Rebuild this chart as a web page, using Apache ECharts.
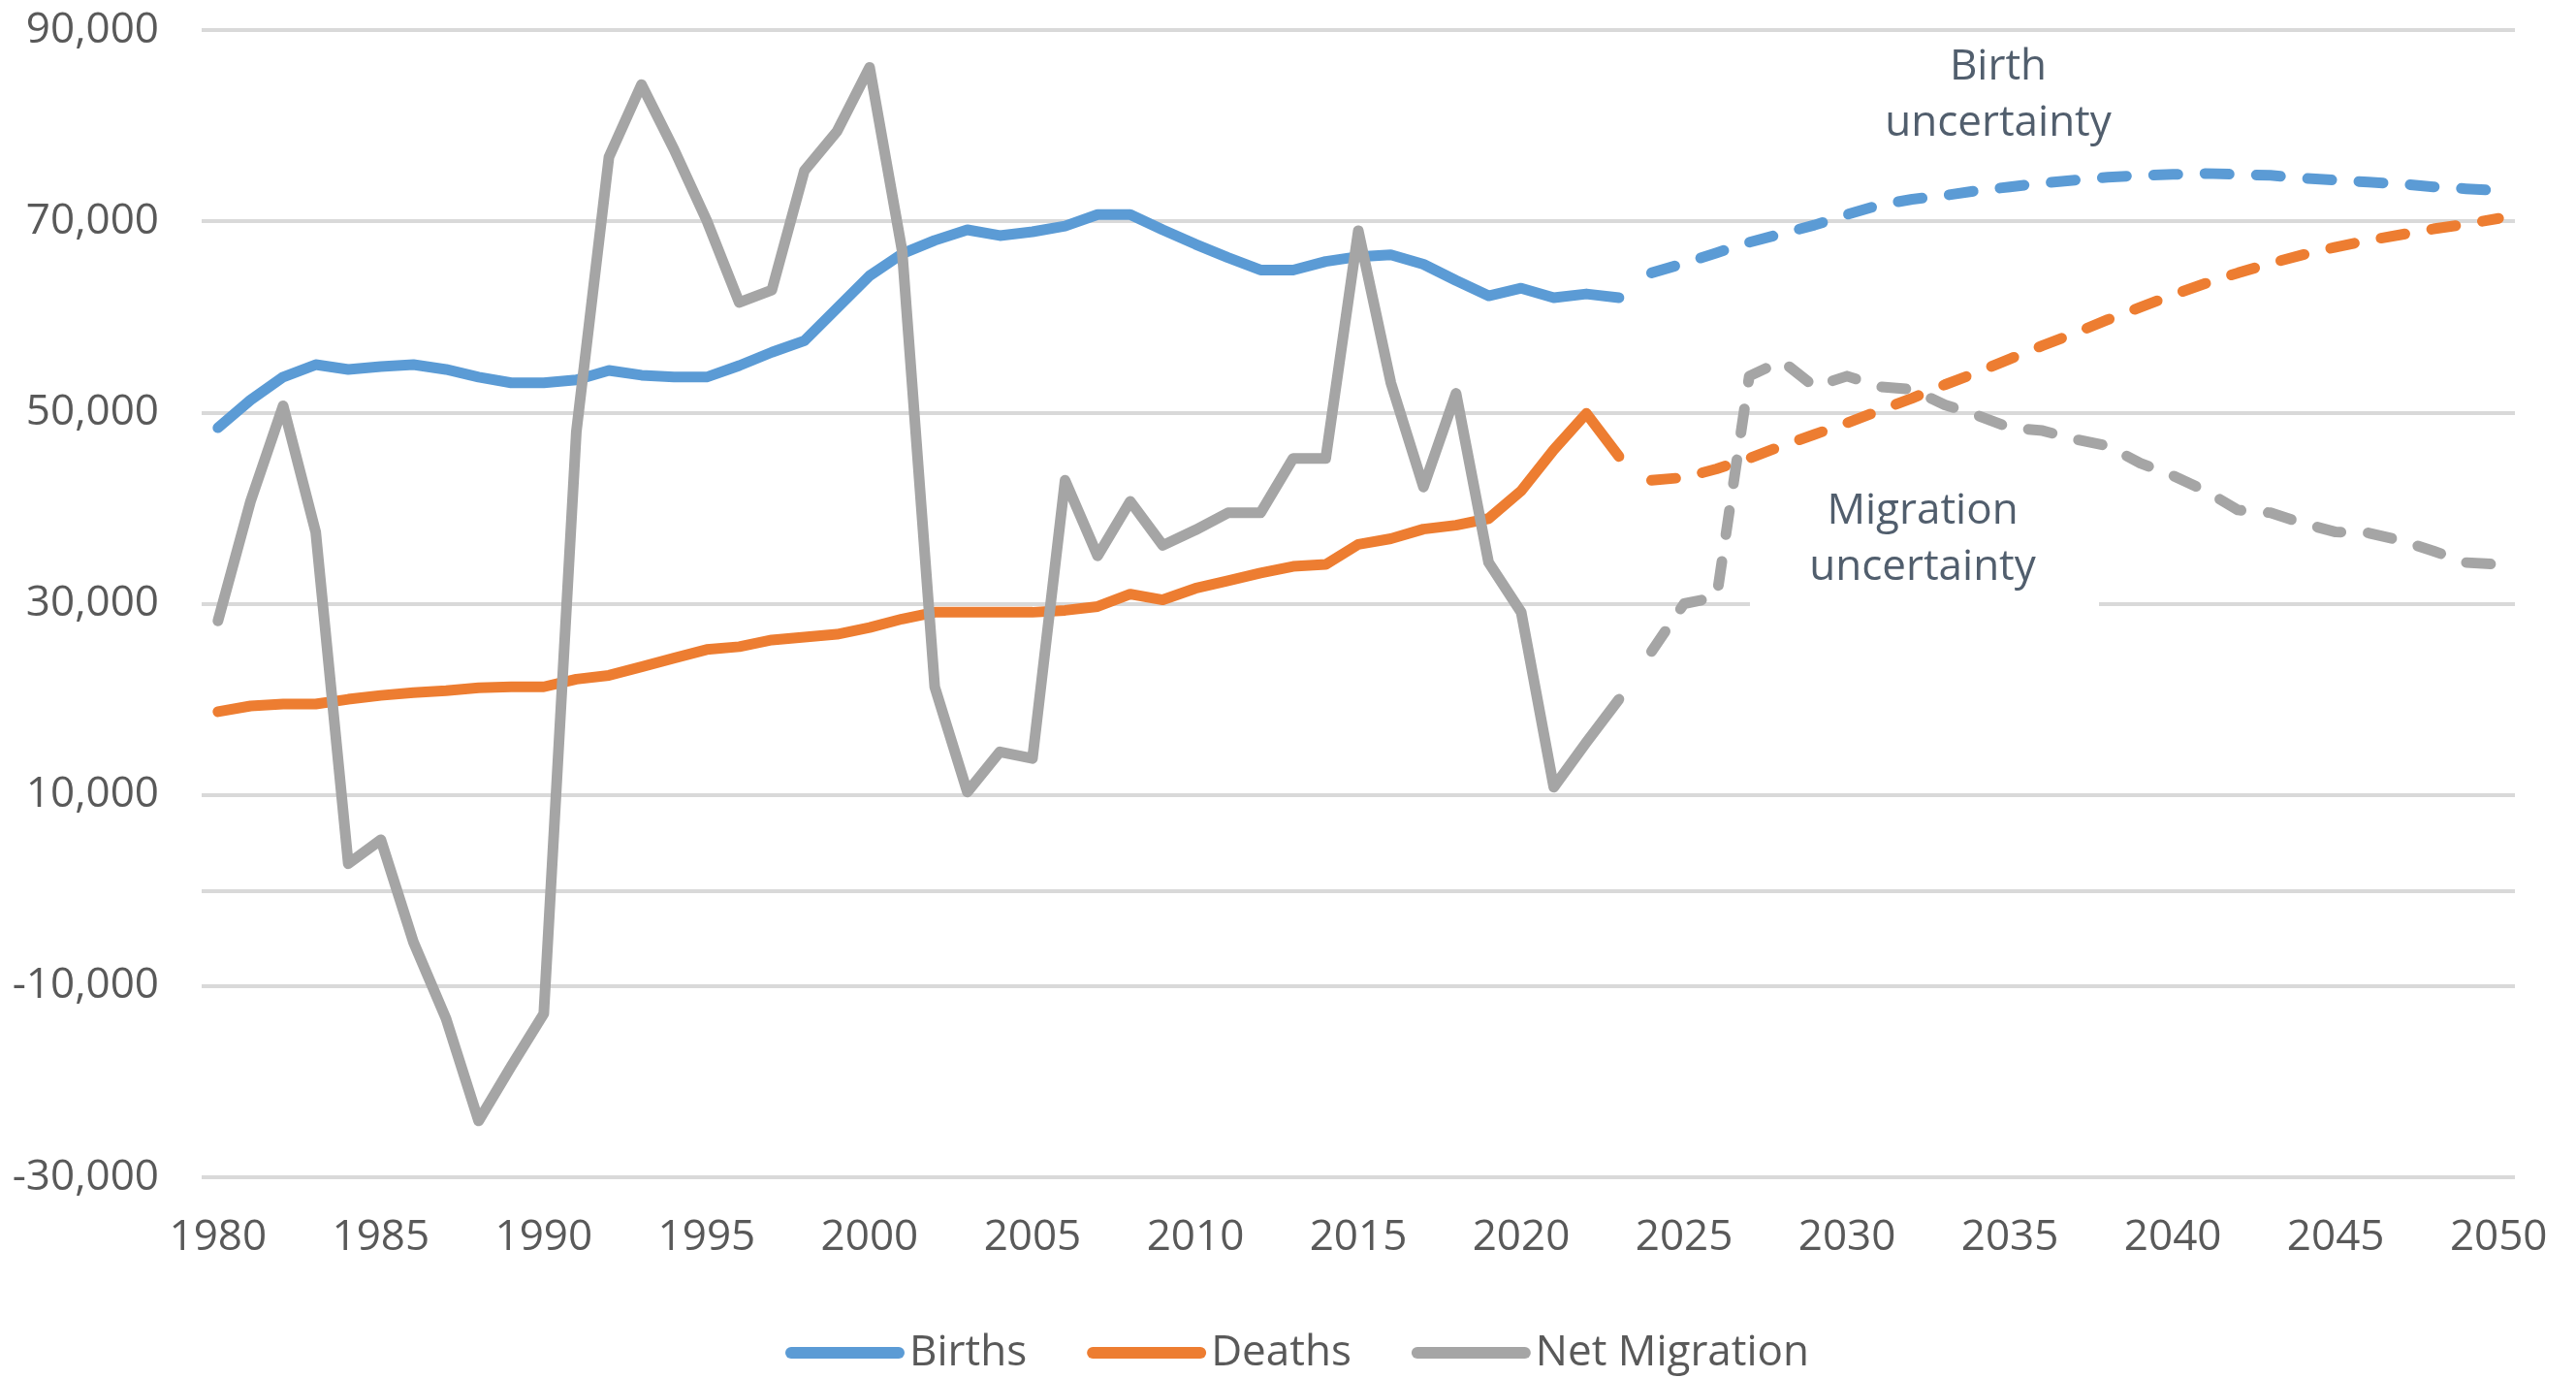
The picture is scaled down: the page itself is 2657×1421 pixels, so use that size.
<!DOCTYPE html>
<html>
<head>
<meta charset="utf-8">
<script src="https://cdn.jsdelivr.net/npm/echarts/dist/echarts.min.js"></script>
<style>
  html, body { margin: 0; padding: 0; background: #fff; }
  #chart { width: 2657px; height: 1421px; }
</style>
</head>
<body>
<div id="chart"></div>
<script>
// years on the category axis
var years = ['1980', '1981', '1982', '1983', '1984', '1985', '1986', '1987', '1988', '1989',
  '1990', '1991', '1992', '1993', '1994', '1995', '1996', '1997', '1998', '1999',
  '2000', '2001', '2002', '2003', '2004', '2005', '2006', '2007', '2008', '2009',
  '2010', '2011', '2012', '2013', '2014', '2015', '2016', '2017', '2018', '2019',
  '2020', '2021', '2022', '2023', '2024', '2025', '2026', '2027', '2028', '2029',
  '2030', '2031', '2032', '2033', '2034', '2035', '2036', '2037', '2038', '2039',
  '2040', '2041', '2042', '2043', '2044', '2045', '2046', '2047', '2048', '2049', '2050'];

// observed 1980-2023
var births = [48400, 51300, 53700, 55000, 54500, 54800, 55000, 54500, 53700, 53100,
  53100, 53400, 54400, 53900, 53700, 53700, 54900, 56300, 57500, 60900,
  64300, 66600, 68000, 69100, 68500, 68900, 69500, 70700, 70700, 69100,
  67600, 66200, 64900, 64900, 65800, 66300, 66500, 65500, 63800, 62200,
  63000, 62000, 62400, 62000];
var deaths = [18700, 19300, 19500, 19500, 20000, 20400, 20700, 20900, 21200, 21300,
  21300, 22100, 22500, 23400, 24300, 25200, 25500, 26200, 26500, 26800,
  27500, 28400, 29100, 29100, 29100, 29100, 29300, 29700, 31000, 30400,
  31600, 32400, 33200, 33900, 34100, 36200, 36800, 37800, 38200, 38900,
  41800, 46100, 49900, 45400];
var netMigration = [28200, 40700, 50700, 37500, 2800, 5300, -5400, -13400, -24100, -18400,
  -12900, 48000, 76700, 84300, 77500, 70100, 61500, 62800, 75300, 79400,
  86100, 66900, 21300, 10300, 14500, 13800, 42900, 35000, 40700, 36100,
  37700, 39500, 39500, 45200, 45200, 69000, 53100, 42200, 52000, 34300,
  29100, 10800, 15500, 20000];

// projections 2024-2050
var birthsProj = [64600, 65600, 66700, 67800, 68700, 69600, 70700, 71700, 72300, 72700,
  73200, 73600, 74000, 74300, 74600, 74800, 74900, 75000, 74900, 74800,
  74500, 74300, 74100, 73900, 73600, 73400, 73200];
var deathsProj = [42900, 43200, 44100, 45200, 46500, 47700, 48900, 50200, 51500, 52900,
  54200, 55600, 57000, 58300, 59700, 61000, 62300, 63500, 64600, 65600,
  66500, 67300, 68000, 68600, 69200, 69700, 70300];
var migrationProj = [25000, 30000, 30700, 53800, 55400, 52700, 53800, 52700, 52400, 50800,
  49700, 48400, 48100, 47200, 46500, 44700, 43400, 41800, 39800, 39500,
  38400, 37500, 37400, 36600, 35500, 34300, 34100];

const colors = ['#5b9bd5', '#ed7d31', '#a5a5a5'];
const gridColor = '#d9d9d9';
const textColor = '#595959';
const font = 'Open Sans';

function padProj(arr) {
  return new Array(years.length - arr.length).fill(null).concat(arr);
}

function solid(name, data, color) {
  return {
    name: name,
    type: 'line',
    data: data,
    symbol: 'none',
    lineStyle: { width: 11, color: color, cap: 'round', join: 'round' },
    itemStyle: { color: color }
  };
}

function dashed(name, data, color) {
  return {
    name: name,
    type: 'line',
    data: padProj(data),
    symbol: 'none',
    lineStyle: { width: 11, color: color, type: [25, 28], cap: 'round', join: 'round' },
    itemStyle: { color: color }
  };
}

var myChart = echarts.init(document.getElementById('chart'));

var seriesList = [
  solid('Births', births, colors[0]),
  solid('Deaths', deaths, colors[1]),
  solid('Net Migration', netMigration, colors[2]),
  dashed('Births projection', birthsProj, colors[0]),
  dashed('Deaths projection', deathsProj, colors[1]),
  dashed('Net Migration projection', migrationProj, colors[2])
];
// zero line (category axis crosses here in the original)
seriesList[0].markLine = {
  silent: true,
  z: 1,
  symbol: 'none',
  label: { show: false },
  lineStyle: { type: 'solid', color: gridColor, width: 4 },
  data: [{ yAxis: 0 }]
};

var option = {
  animation: false,
  backgroundColor: '#fff',
  grid: {
    left: 208,
    right: 63,
    top: 31,
    bottom: 207,
    outerBoundsMode: 'none'
  },
  legend: {
    data: ['Births', 'Deaths', 'Net Migration'],
    left: 805,
    top: 1368,
    itemWidth: 123,
    itemHeight: 12,
    itemGap: 62,
    icon: 'path://M6,0 H117 A6,6 0 0 1 117,12 H6 A6,6 0 0 1 6,0 Z',
    textStyle: { fontSize: 44, color: textColor, fontFamily: font }
  },
  xAxis: {
    type: 'category',
    data: years,
    boundaryGap: true,
    axisLine: { show: false },
    axisTick: { show: false },
    splitLine: { show: false },
    axisLabel: {
      interval: 4,
      fontSize: 44,
      color: textColor,
      fontFamily: font,
      margin: 40
    }
  },
  yAxis: {
    type: 'value',
    min: -30000,
    max: 90000,
    interval: 10000,
    axisLine: { show: false },
    axisTick: { show: false },
    axisLabel: {
      fontSize: 44,
      color: textColor,
      fontFamily: font,
      margin: 44,
      formatter: function (v) {
        if ((v + 30000) % 20000 !== 0) return '';
        return v.toLocaleString('en-US');
      }
    },
    splitLine: {
      show: true,
      lineStyle: { color: [gridColor, 'rgba(0,0,0,0)'], width: 4 }
    }
  },
  graphic: [
    {
      type: 'rect',
      z: 1,
      shape: { x: 1805, y: 495, width: 360, height: 140 },
      style: { fill: '#fff' },
      silent: true
    },
    {
      type: 'text',
      z: 10,
      x: 2061,
      y: 98,
      style: {
        text: 'Birth\nuncertainty',
        fill: '#515e6d',
        fontSize: 44,
        fontFamily: font,
        lineHeight: 58,
        align: 'center',
        verticalAlign: 'middle'
      }
    },
    {
      type: 'text',
      z: 10,
      x: 1983,
      y: 556,
      style: {
        text: 'Migration\nuncertainty',
        fill: '#515e6d',
        fontSize: 44,
        fontFamily: font,
        lineHeight: 58,
        align: 'center',
        verticalAlign: 'middle'
      }
    }
  ],
  series: seriesList
};

myChart.setOption(option);
</script>
</body>
</html>
